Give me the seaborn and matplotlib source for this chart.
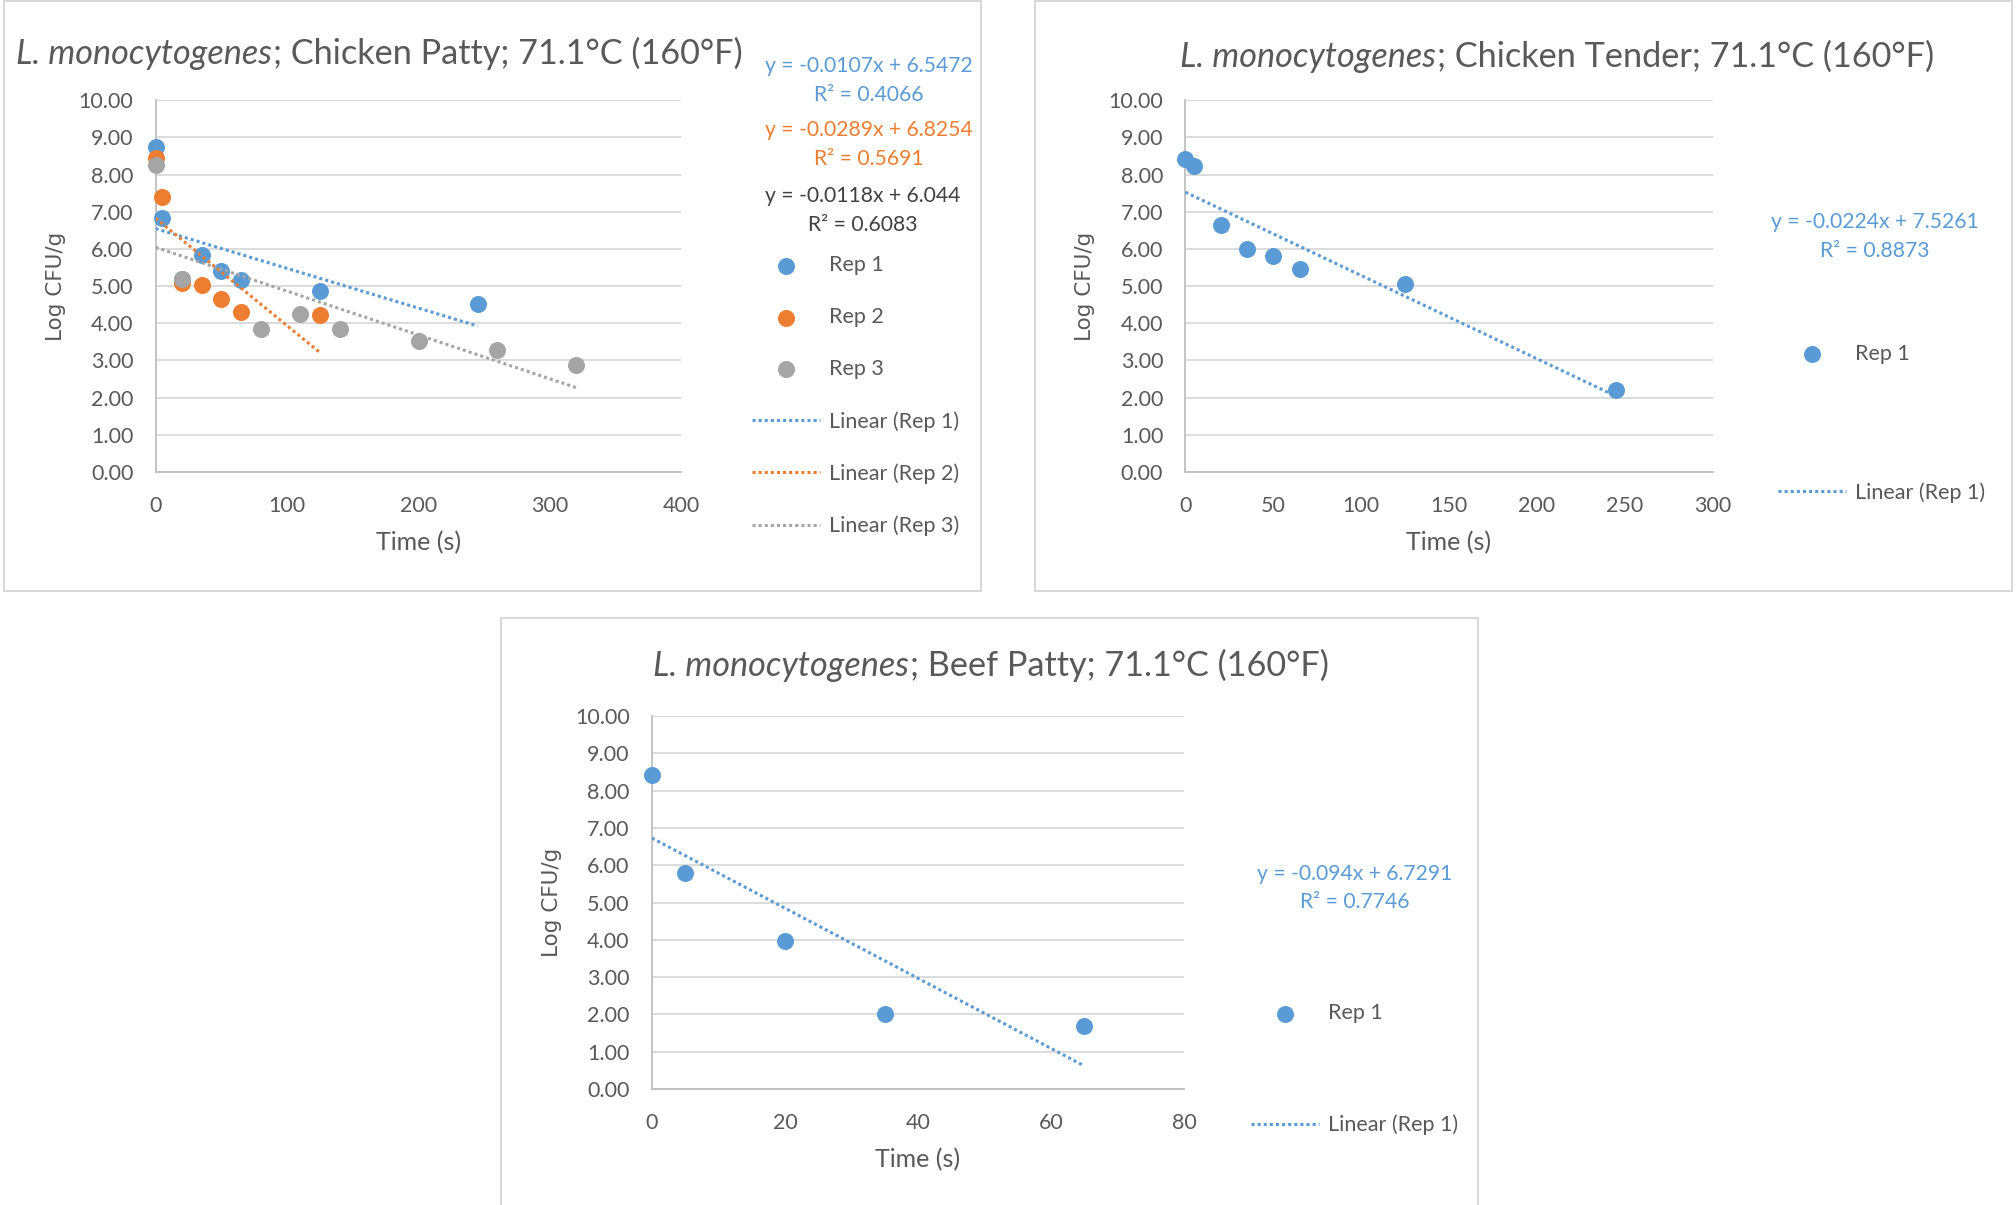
import numpy as np
import pandas as pd
import matplotlib
matplotlib.use("Agg")
import matplotlib.pyplot as plt
import seaborn as sns
from matplotlib.patches import Rectangle
from matplotlib.ticker import StrMethodFormatter, MultipleLocator

# ---------------- data ----------------
patty_rep1_time = [0, 5, 20, 35, 50, 65, 125, 245]
patty_rep1_log = [8.75, 6.82, 5.20, 5.85, 5.40, 5.16, 4.88, 4.53]
patty_rep2_time = [0, 5, 20, 35, 50, 65, 125]
patty_rep2_log = [8.44, 7.40, 5.09, 5.02, 4.64, 4.29, 4.22]
patty_rep3_time = [0, 20, 80, 110, 140, 200, 260, 320]
patty_rep3_log = [8.27, 5.19, 3.84, 4.26, 3.84, 3.53, 3.29, 2.87]
patty_slopes = [-0.0107, -0.0289, -0.0118]
patty_intercepts = [6.5472, 6.8254, 6.044]
patty_r2 = [0.4066, 0.5691, 0.6083]

tender_rep1_time = [0, 5, 20, 35, 50, 65, 125, 245]
tender_rep1_log = [8.41, 8.24, 6.64, 5.99, 5.81, 5.47, 5.05, 2.21]
tender_slope = [-0.0224]
tender_intercept = [7.5261]
tender_r2 = [0.8873]

beef_rep1_time = [0, 5, 20, 35, 65]
beef_rep1_log = [8.41, 5.79, 3.97, 2.00, 1.69]
beef_slope = [-0.094]
beef_intercept = [6.7291]
beef_r2 = [0.7746]

organism = "L. monocytogenes"
products = ["Chicken Patty", "Chicken Tender", "Beef Patty"]
temperature = "71.1°C (160°F)"
rep_labels = ["Rep 1", "Rep 2", "Rep 3"]
x_label = "Time (s)"
y_label = "Log CFU/g"

# ---------------- style ----------------
sns.set_theme(style="white")
FONT = "Lato"
plt.rcParams["font.family"] = [FONT, "DejaVu Sans"]
COLORS = ["#5B9BD5", "#ED7D31", "#A5A5A5"]
EQ_COLORS = ["#5B9BD5", "#ED7D31", "#404040"]
TXT = "#595959"
W, H = 2016, 1205
LEG_FS = 15.5

fig = plt.figure(figsize=(W / 100, H / 100), dpi=100)
fig.patch.set_facecolor("white")


def fx(px):
    return px / W


def fy(py):
    return 1 - py / H


def make_ax(left, top, right, bottom):
    return fig.add_axes([fx(left), fy(bottom), (right - left) / W, (bottom - top) / H])


def style_ax(ax, xmax, xstep, width_px, height_px):
    ax.set_xlim(0, xmax)
    ax.set_ylim(0, 10)
    ax.xaxis.set_major_locator(MultipleLocator(xstep))
    ax.yaxis.set_major_locator(MultipleLocator(1))
    ax.yaxis.set_major_formatter(StrMethodFormatter("{x:.2f}"))
    ax.grid(axis="y", color="#D9D9D9", linewidth=1.3)
    ax.grid(axis="x", visible=False)
    for s in ["top", "right"]:
        ax.spines[s].set_visible(False)
    for s in ["left", "bottom"]:
        ax.spines[s].set_color("#BFBFBF")
        ax.spines[s].set_linewidth(1.3)
    ax.tick_params(length=0, labelsize=15.5, colors=TXT)
    ax.tick_params(axis="x", pad=17)
    ax.tick_params(axis="y", pad=16)
    ax.set_xlabel(x_label, fontsize=18, color=TXT)
    ax.set_ylabel(y_label, fontsize=15.5, color=TXT, family="DejaVu Sans")
    ax.xaxis.set_label_coords(0.5, -71 / height_px)
    ax.xaxis.label.set_va("center")
    ax.yaxis.set_label_coords(-100 / width_px, 0.5)
    ax.yaxis.label.set_va("center")
    ax.set_axisbelow(True)


def draw_series(ax, times, logs, color, label):
    df = pd.DataFrame({"t": times, "y": logs})
    sns.scatterplot(data=df, x="t", y="y", ax=ax, color=color, s=150,
                    edgecolor=color, linewidth=0, label=label, clip_on=False, zorder=3)


def draw_trend(ax, times, slope, intercept, color, label):
    xs = np.array([0, max(times)], dtype=float)
    df = pd.DataFrame({"t": xs, "y": slope * xs + intercept})
    sns.lineplot(data=df, x="t", y="y", ax=ax, color=color, linewidth=2.2,
                 linestyle=(0, (1, 1)), label=label, estimator=None, zorder=4)


def eq_text(cx, cy1, cy2, slope, intercept, r2, color):
    fig.text(fx(cx), fy(cy1 + 2.5), f"y = {slope:g}x + {intercept:g}",
             ha="center", va="center", fontsize=15.2, color=color)
    fig.text(fx(cx), fy(cy2 + 2.5), f"R² = {r2:.4f}",
             ha="center", va="center", fontsize=15.2, color=color)


renderer = fig.canvas.get_renderer()


def mixed_title(cx, baseline, product, size=24.7):
    t1 = fig.text(0, 0, organism, style="italic", fontsize=size, color=TXT, va="baseline")
    t2 = fig.text(0, 0, f"; {product}; {temperature}", fontsize=size, color=TXT, va="baseline")
    w1 = t1.get_window_extent(renderer).width
    w2 = t2.get_window_extent(renderer).width
    x0 = cx - (w1 + w2) / 2
    t1.set_position((fx(x0), fy(baseline)))
    t2.set_position((fx(x0 + w1 + 1), fy(baseline)))


def legend(ax, left, top, spacing):
    h, l = ax.get_legend_handles_labels()
    ax.legend(h, l, loc="upper left", bbox_to_anchor=(fx(left), fy(top)),
              bbox_transform=fig.transFigure, frameon=False, borderaxespad=0,
              borderpad=0, handlelength=3.16, handletextpad=0.42,
              labelspacing=spacing, fontsize=LEG_FS, labelcolor=TXT)


# panel frames
for (l, t, r, b) in [(4, 1, 981, 591), (1035, 1, 2012, 591), (501, 618, 1478, 1210)]:
    fig.patches.append(Rectangle((fx(l), fy(b)), (r - l) / W, (b - t) / H,
                                 transform=fig.transFigure, fill=False,
                                 edgecolor="#D9D9D9", linewidth=1.5))

# ---------------- panel 1: chicken patty ----------------
ax1 = make_ax(155.6, 100.3, 681.4, 471.9)
style_ax(ax1, 400, 100, 525.8, 371.6)
p_times = [patty_rep1_time, patty_rep2_time, patty_rep3_time]
p_logs = [patty_rep1_log, patty_rep2_log, patty_rep3_log]
for i in range(3):
    draw_series(ax1, p_times[i], p_logs[i], COLORS[i], rep_labels[i])
for i in range(3):
    draw_trend(ax1, p_times[i], patty_slopes[i], patty_intercepts[i], COLORS[i],
               f"Linear ({rep_labels[i]})")
legend(ax1, 752, 255.4, 1.48)
mixed_title(379, 64, products[0])
eq_text(869, 63, 92.6, patty_slopes[0], patty_intercepts[0], patty_r2[0], EQ_COLORS[0])
eq_text(869, 127.3, 156.9, patty_slopes[1], patty_intercepts[1], patty_r2[1], EQ_COLORS[1])
eq_text(863, 194, 222.4, patty_slopes[2], patty_intercepts[2], patty_r2[2], EQ_COLORS[2])

# ---------------- panel 2: chicken tender ----------------
ax2 = make_ax(1185.4, 100.3, 1712.6, 471.9)
style_ax(ax2, 300, 50, 527.2, 371.6)
draw_series(ax2, tender_rep1_time, tender_rep1_log, COLORS[0], rep_labels[0])
draw_trend(ax2, tender_rep1_time, tender_slope[0], tender_intercept[0], COLORS[0],
           f"Linear ({rep_labels[0]})")
legend(ax2, 1778, 344, 5.5)
mixed_title(1557, 67, products[1])
eq_text(1874.6, 219.9, 248.1, tender_slope[0], tender_intercept[0], tender_r2[0], EQ_COLORS[0])

# ---------------- panel 3: beef patty ----------------
ax3 = make_ax(651.9, 716.1, 1184.1, 1089)
style_ax(ax3, 80, 20, 532.2, 372.9)
draw_series(ax3, beef_rep1_time, beef_rep1_log, COLORS[0], rep_labels[0])
draw_trend(ax3, beef_rep1_time, beef_slope[0], beef_intercept[0], COLORS[0],
           f"Linear ({rep_labels[0]})")
legend(ax3, 1251, 1003.4, 4.25)
mixed_title(990, 676, products[2])
eq_text(1355, 871.7, 900, beef_slope[0], beef_intercept[0], beef_r2[0], EQ_COLORS[0])

fig.savefig("out.png", dpi=100, facecolor="white")
